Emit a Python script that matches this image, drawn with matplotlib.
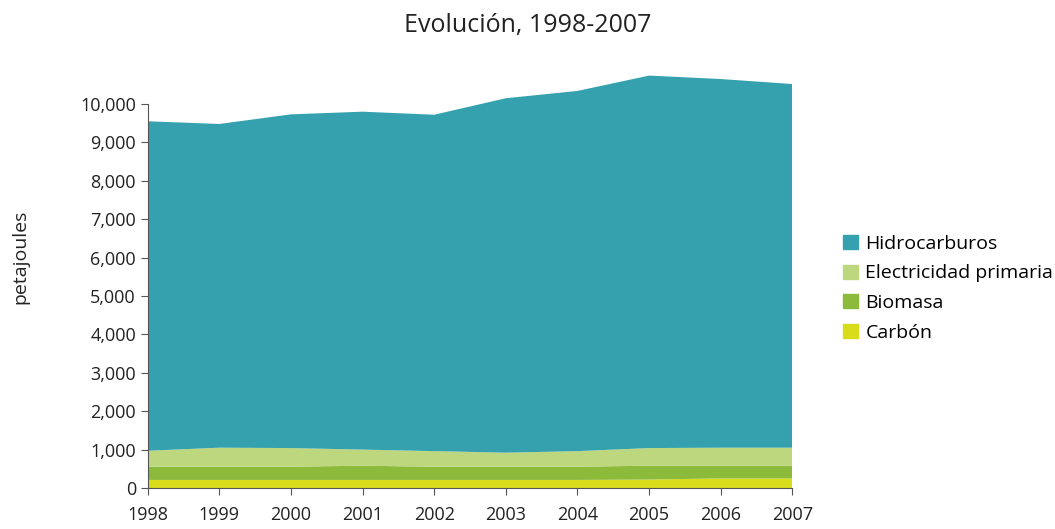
import matplotlib
matplotlib.use("Agg")
import matplotlib.pyplot as plt
from matplotlib.ticker import FuncFormatter
from matplotlib.patches import Patch

# values (petajoules)
years = [1998, 1999, 2000, 2001, 2002, 2003, 2004, 2005, 2006, 2007]
carbon = [210, 210, 210, 210, 210, 210, 210, 220, 250, 250]
biomasa = [345, 345, 345, 370, 345, 345, 345, 360, 330, 330]
electricidad = [415, 495, 485, 420, 405, 365, 405, 460, 470, 470]
hidrocarburos = [8580, 8430, 8690, 8800, 8760, 9230, 9380, 9700, 9600, 9470]

labels = ["Carbón", "Biomasa", "Electricidad primaria", "Hidrocarburos"]
colors = ["#d9dc1a", "#8cba3a", "#bcd77e", "#35a1ae"]

plt.rcParams['font.family'] = ['Open Sans', 'DejaVu Sans']

fig = plt.figure(figsize=(10.55, 5.29), dpi=100)
ax = fig.add_axes([0.14, 0.0775, 0.611, 0.7985])

ax.stackplot(years, carbon, biomasa, electricidad, hidrocarburos,
             colors=colors, linewidth=0)

ax.set_xlim(1998, 2007)
ax.set_ylim(0, 11000)
ax.set_xticks(years)
ax.set_yticks(range(0, 10001, 1000))
ax.yaxis.set_major_formatter(FuncFormatter(lambda v, p: "{:,.0f}".format(v)))

for s in ["top", "right"]:
    ax.spines[s].set_visible(False)
ax.spines["left"].set_bounds(0, 10000)
ax.spines["left"].set_color("#555555")
ax.spines["bottom"].set_color("#555555")
ax.tick_params(axis="both", colors="#555555", labelcolor="#222222", labelsize=13, length=5)
ax.tick_params(axis="x", pad=8)

fig.text(0.019, 0.514, "petajoules", rotation=90, ha="center", va="center", fontsize=14, color="#222222")
fig.text(0.5, 0.952, "Evolución, 1998-2007", ha="center", va="center", fontsize=18, color="#222222")

handles = [Patch(color=c, label=l) for c, l in zip(colors, labels)][::-1]
fig.legend(handles=handles, loc="center left", bbox_to_anchor=(0.799, 0.455), frameon=False,
           fontsize=14, handlelength=0.75, handleheight=0.75, handletextpad=0.4, labelspacing=0.6,
           borderpad=0, borderaxespad=0)

fig.savefig("out.png", dpi=100)
